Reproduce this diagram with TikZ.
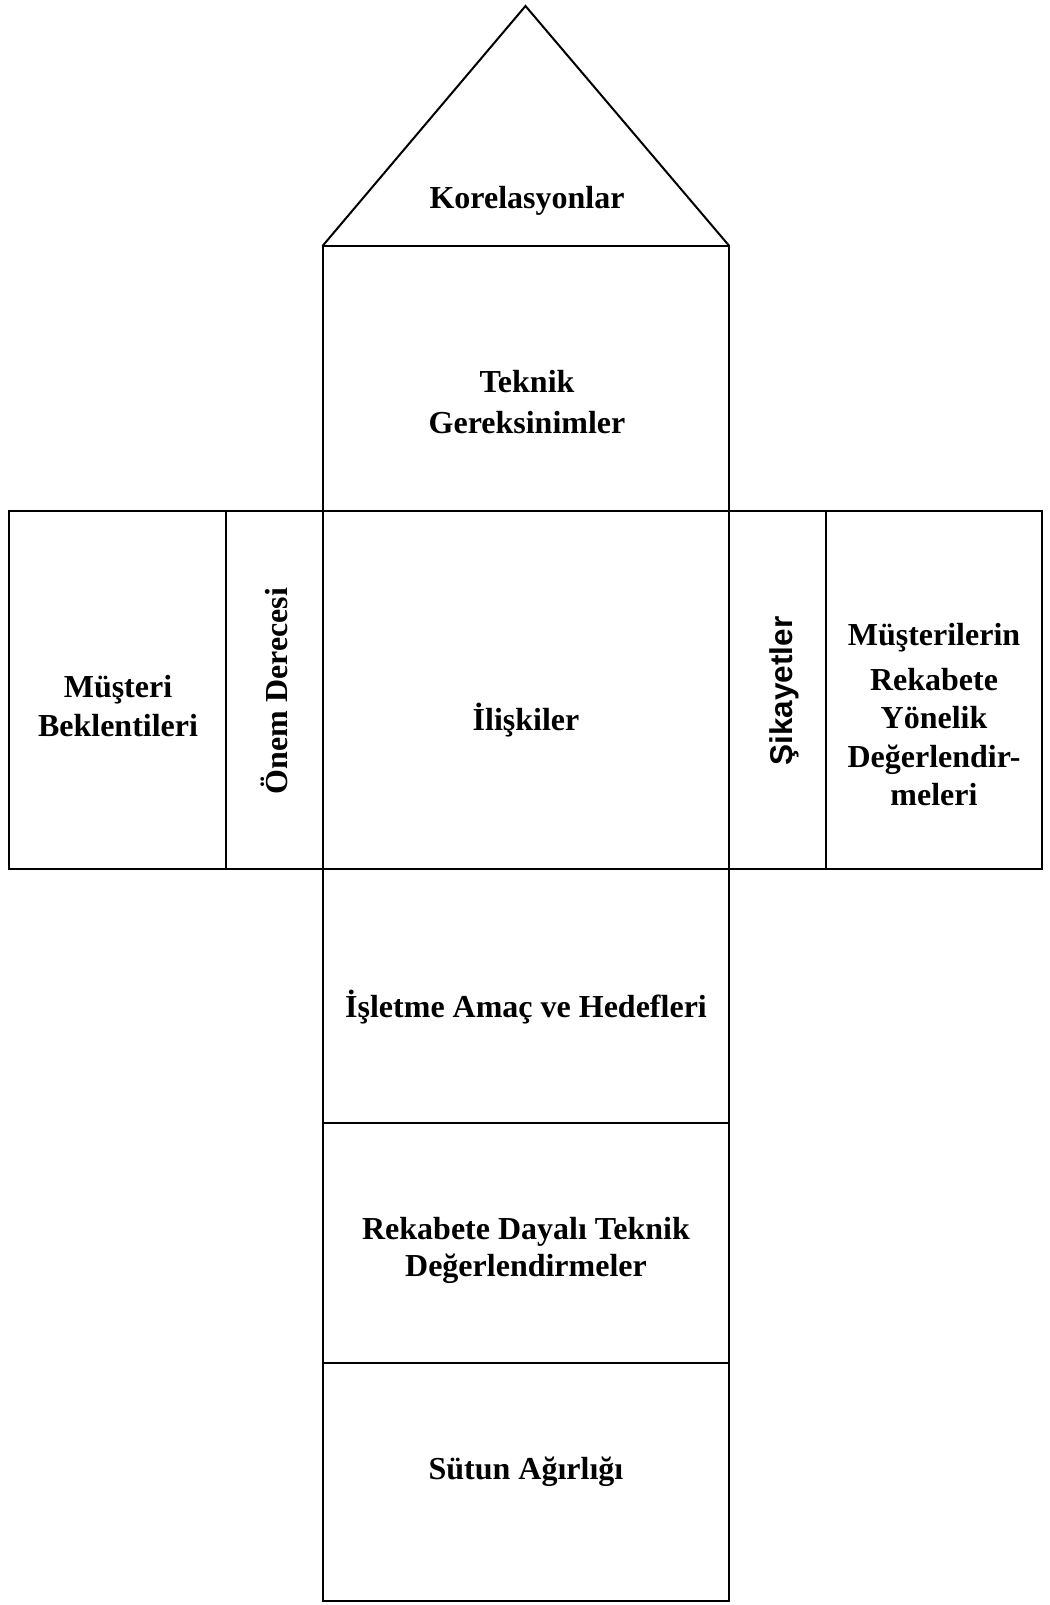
\documentclass[tikz,border=0pt]{standalone}
\usepackage{fontspec}
\setmainfont{Liberation Serif}
\newfontfamily\arialbold{Liberation Sans}[BoldFont=* Bold]
\begin{document}
\begin{tikzpicture}[x=1pt,y=-1pt,
  box/.style={draw=black,line width=2pt},
  lbl/.style={font=\fontsize{32}{40}\selectfont\bfseries,align=center,inner sep=0pt}]
\useasboundingbox (0,0) rectangle (1049,1605);
% roof
\draw[box,line join=miter] (322.5,246) -- (525.5,6) -- (729.3,246);
% column boxes
\draw[box] (322.5,246) rectangle (729.3,510.7);
\draw[box] (322.5,510.7) rectangle (729.3,869.3);
\draw[box] (322.5,869.3) rectangle (729.3,1123.3);
\draw[box] (322.5,1123.3) rectangle (729.3,1362.7);
\draw[box] (322.5,1362.7) rectangle (729.3,1600.7);
% side boxes
\draw[box] (9.3,510.7) rectangle (225.7,869.3);
\draw[box] (225.7,510.7) rectangle (322.5,869.3);
\draw[box] (729.3,510.7) rectangle (826,869.3);
\draw[box] (826,510.7) rectangle (1041.7,869.3);
% labels
\node[lbl] (kor) at (527,201) {Korelasyonlar};
\node[lbl,font=\fontsize{32}{41}\selectfont\bfseries] (tek) at (527,402) {Teknik\\Gereksinimler};
\node[lbl,font=\fontsize{32}{39}\selectfont\bfseries] (mb) at (118,706) {Müşteri\\Beklentileri};
\node[lbl,rotate=90] (onem) at (274,691) {Önem Derecesi};
\node[lbl] (ilis) at (526,720) {İlişkiler};
\node[font=\fontsize{31.5}{37}\selectfont\arialbold\bfseries,rotate=90,inner sep=0pt] (sik) at (784,691) {Şikayetler};
\node[lbl,font=\fontsize{32}{38.5}\selectfont\bfseries] (mr) at (934,715) {Müşterilerin\\[6pt]Rekabete\\Yönelik\\Değerlendir-\\meleri};
\node[lbl] (isl) at (526,1007) {İşletme Amaç ve Hedefleri};
\node[lbl,font=\fontsize{32}{37}\selectfont\bfseries] (rek) at (526,1250) {Rekabete Dayalı Teknik\\Değerlendirmeler};
\node[lbl] (sut) at (526,1472) {Sütun Ağırlığı};
\end{tikzpicture}
\end{document}
